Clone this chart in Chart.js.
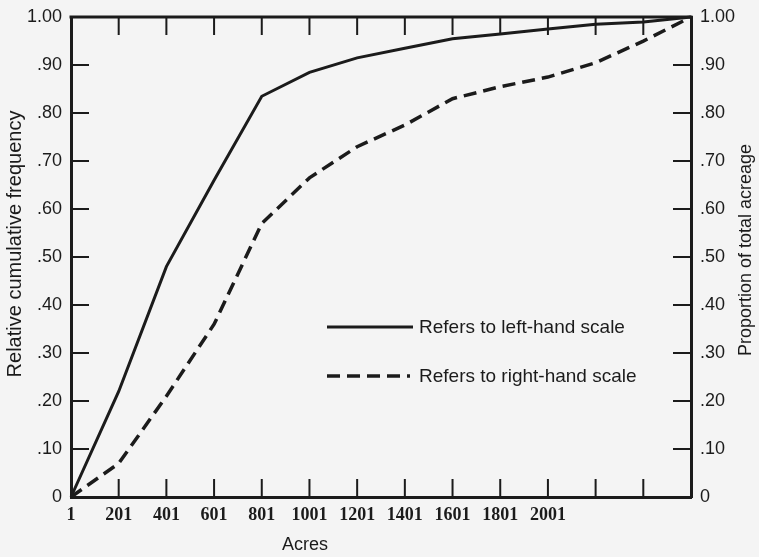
<!DOCTYPE html>
<html lang="en">
<head>
<meta charset="UTF-8">
<title>Cumulative distribution of farm acreage</title>
<script src="https://cdn.jsdelivr.net/npm/chart.js@4.4.0/dist/chart.umd.min.js"></script>
<style>
  body { margin: 0; background: #f4f4f4; }
  #wrap { width: 759px; height: 557px; }
</style>
</head>
<body>
<div id="wrap"><canvas id="chart" width="759" height="557"></canvas></div>
<script>
// size classes (acres), lower bound of each class
const acres = [1, 201, 401, 601, 801, 1001, 1201, 1401, 1601, 1801, 2001, 2201, 2401, 2601];
const xTickLabels = ['1', '201', '401', '601', '801', '1001', '1201', '1401', '1601', '1801', '2001'];

// relative cumulative frequency of farms (left scale)
const cumFrequency = [0, 0.22, 0.48, 0.66, 0.835, 0.885, 0.915, 0.935, 0.955, 0.965, 0.975, 0.985, 0.99, 1.00];
// proportion of total acreage (right scale)
const cumAcreage = [0, 0.07, 0.21, 0.36, 0.57, 0.665, 0.73, 0.775, 0.83, 0.855, 0.875, 0.905, 0.95, 1.00];

const yTicks = [0, 0.1, 0.2, 0.3, 0.4, 0.5, 0.6, 0.7, 0.8, 0.9, 1.0];
const yTickLabels = ['0', '.10', '.20', '.30', '.40', '.50', '.60', '.70', '.80', '.90', '1.00'];

const INK = '#1b1b1b';
const SANS = '"Liberation Sans", Arial, sans-serif';

// frame, inward tick marks, legend and the titles placed by hand
const frameAndLegend = {
    id: 'frameAndLegend',
    afterDatasetsDraw(chart) {
        const { ctx, chartArea: a, scales: { x, y, y2 } } = chart;
        const TICK = 18;
        ctx.save();
        ctx.strokeStyle = INK;
        ctx.fillStyle = INK;

        ctx.lineWidth = 3;
        ctx.beginPath();
        ctx.moveTo(a.left - 1.5, a.top);
        ctx.lineTo(a.right + 1.5, a.top);
        ctx.stroke();

        ctx.lineWidth = 2;
        ctx.beginPath();
        x.ticks.slice(1, -1).forEach(t => {
            const px = x.getPixelForValue(t.value);
            ctx.moveTo(px, a.bottom);
            ctx.lineTo(px, a.bottom - TICK);
            ctx.moveTo(px, a.top);
            ctx.lineTo(px, a.top + TICK);
        });
        y.ticks.slice(1, -1).forEach(t => {
            const py = y.getPixelForValue(t.value);
            ctx.moveTo(a.left, py);
            ctx.lineTo(a.left + TICK, py);
        });
        y2.ticks.slice(1, -1).forEach(t => {
            const py = y2.getPixelForValue(t.value);
            ctx.moveTo(a.right, py);
            ctx.lineTo(a.right - TICK, py);
        });
        ctx.stroke();

        // legend
        ctx.font = '19px ' + SANS;
        ctx.textBaseline = 'middle';
        ctx.textAlign = 'left';
        chart.data.datasets.forEach((ds, i) => {
            const ly = 327 + i * 49;
            ctx.save();
            ctx.lineWidth = ds.borderWidth;
            ctx.setLineDash(ds.borderDash || []);
            ctx.beginPath();
            ctx.moveTo(327, ly);
            ctx.lineTo(i ? 410 : 413, ly);
            ctx.stroke();
            ctx.restore();
            ctx.fillText(ds.label, 419, ly + 1);
        });

        // axis titles, both reading upwards
        ctx.textAlign = 'center';
        ctx.font = '20px ' + SANS;
        ctx.save();
        ctx.translate(15, 244);
        ctx.rotate(-Math.PI / 2);
        ctx.fillText('Relative cumulative frequency', 0, 0);
        ctx.restore();

        ctx.font = '18px ' + SANS;
        ctx.save();
        ctx.translate(746, 250);
        ctx.rotate(-Math.PI / 2);
        ctx.fillText('Proportion of total acreage', 0, 0);
        ctx.restore();

        ctx.fillText('Acres', 305, 545);
        ctx.restore();
    }
};

const axisBorder = { display: true, width: 3, color: INK };
const noGrid = { display: true, drawOnChartArea: false, drawTicks: false };
const yTickFont = { family: SANS, size: 18, lineHeight: 0.9 };

new Chart(document.getElementById('chart'), {
    type: 'line',
    data: {
        datasets: [{
            label: 'Refers to left-hand scale',
            data: acres.map((a, i) => ({ x: a, y: cumFrequency[i] })),
            yAxisID: 'y',
            borderColor: INK,
            borderWidth: 3,
            pointRadius: 0,
            tension: 0,
            clip: false
        }, {
            label: 'Refers to right-hand scale',
            data: acres.map((a, i) => ({ x: a, y: cumAcreage[i] })),
            yAxisID: 'y2',
            borderColor: INK,
            borderWidth: 3.5,
            borderDash: [13, 7],
            pointRadius: 0,
            tension: 0,
            clip: false
        }]
    },
    options: {
        responsive: false,
        animation: false,
        events: [],
        layout: { padding: { top: 5 } },
        plugins: {
            legend: { display: false },
            tooltip: { enabled: false }
        },
        scales: {
            x: {
                type: 'linear',
                position: 'bottom',
                min: 1,
                max: 2601,
                afterBuildTicks: s => { s.ticks = acres.map(v => ({ value: v })); },
                afterFit: s => { s.height = 60; },
                grid: noGrid,
                border: axisBorder,
                ticks: {
                    autoSkip: false,
                    maxRotation: 0,
                    padding: 8,
                    color: INK,
                    font: { family: '"Liberation Serif", serif', size: 18, weight: 'bold' },
                    callback: (v, i) => xTickLabels[i] ?? ''
                }
            },
            y: {
                position: 'left',
                min: 0,
                max: 1,
                afterBuildTicks: s => { s.ticks = yTicks.map(v => ({ value: v })); },
                afterFit: s => { s.width = 71; },
                grid: noGrid,
                border: axisBorder,
                ticks: {
                    padding: 9,
                    color: INK,
                    font: yTickFont,
                    callback: (v, i) => yTickLabels[i]
                }
            },
            y2: {
                position: 'right',
                min: 0,
                max: 1,
                afterBuildTicks: s => { s.ticks = yTicks.map(v => ({ value: v })); },
                afterFit: s => { s.width = 68; },
                grid: noGrid,
                border: axisBorder,
                ticks: {
                    padding: 9,
                    color: INK,
                    font: yTickFont,
                    callback: (v, i) => yTickLabels[i]
                }
            }
        }
    },
    plugins: [frameAndLegend]
});
</script>
</body>
</html>
